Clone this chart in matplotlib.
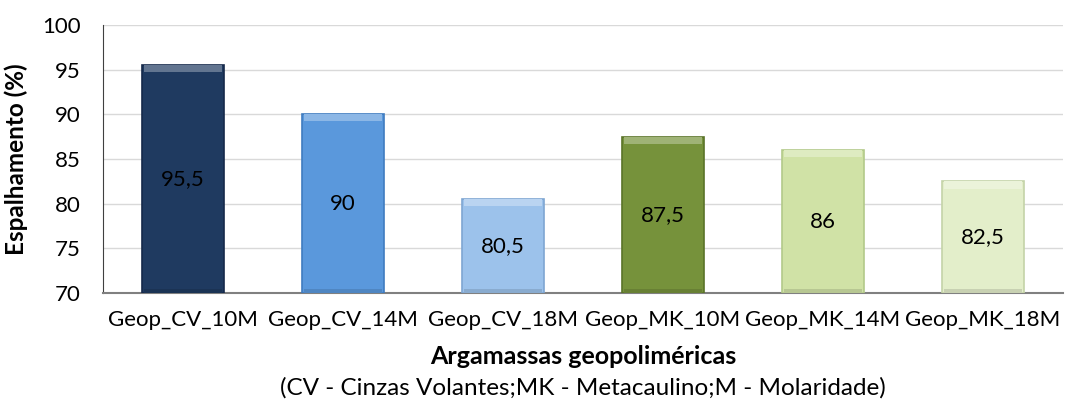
import numpy as np
import matplotlib.pyplot as plt
from matplotlib.colors import to_rgb

plt.rcParams['font.family'] = ['Lato', 'DejaVu Sans']

# Data
categories = ['Geop_CV_10M', 'Geop_CV_14M', 'Geop_CV_18M',
              'Geop_MK_10M', 'Geop_MK_14M', 'Geop_MK_18M']
values = [95.5, 90, 80.5, 87.5, 86, 82.5]
colors = ['#1F3A60', '#5A98DC', '#9CC2EB', '#76923B', '#D0E2A6', '#E3EECA']
edges = ['#15294A', '#3F7CC0', '#7EA6D2', '#5A7328', '#B3C98A', '#C4D3A8']


def mix(c, other, t):
    a = np.array(to_rgb(c))
    b = np.array(to_rgb(other))
    return tuple(a * (1 - t) + b * t)


fig = plt.figure(figsize=(10.65, 4.07), dpi=100)
ax = fig.add_axes([0.0967, 0.280, 0.9015, 0.6586])

x = np.arange(len(categories))
base = 70
w = 0.51
ax.bar(x, [v - base for v in values], bottom=base, width=w,
       color=colors, edgecolor=edges, linewidth=1.2, zorder=3)

# bevel look: light strip on top, darker strip at the bottom
band = 0.8
ax.bar(x, band, bottom=[v - band for v in values], width=w * 0.96,
       color=[mix(c, 'white', 0.3) for c in colors], linewidth=0, zorder=3.5)
ax.bar(x, band * 0.6, bottom=base, width=w * 0.96,
       color=[mix(c, 'black', 0.12) for c in colors], linewidth=0, zorder=3.5)

# value labels in the middle of each bar
for xi, v in zip(x, values):
    ax.text(xi, (base + v) / 2, str(v).replace('.', ','), ha='center',
            va='center', fontsize=16, color='black', zorder=4)

ax.set_xlim(-0.5, len(categories) - 0.5)
ax.set_ylim(70, 100)
ax.set_yticks(range(70, 101, 5))
ax.set_xticks(x)
ax.set_xticklabels(categories, fontsize=16)
ax.tick_params(axis='y', labelsize=16, length=0, pad=16)
ax.tick_params(axis='x', length=0, pad=12)
ax.grid(axis='y', color='#D9D9D9', linewidth=1, zorder=0)

for s in ['top', 'right']:
    ax.spines[s].set_visible(False)
ax.spines['left'].set_color('#404040')
ax.spines['bottom'].set_color('#808080')
ax.spines['bottom'].set_linewidth(1.5)

ax.set_ylabel('Espalhamento (%)', fontsize=17.5, fontweight='bold', labelpad=10)
cx = 0.0967 + 0.9015 / 2
fig.text(cx, 0.125, 'Argamassas geopoliméricas', ha='center', va='center',
         fontsize=18, fontweight='bold')
fig.text(cx, 0.047, '(CV - Cinzas Volantes;MK - Metacaulino;M - Molaridade)',
         ha='center', va='center', fontsize=17.5)

fig.savefig('out.png', dpi=100)
